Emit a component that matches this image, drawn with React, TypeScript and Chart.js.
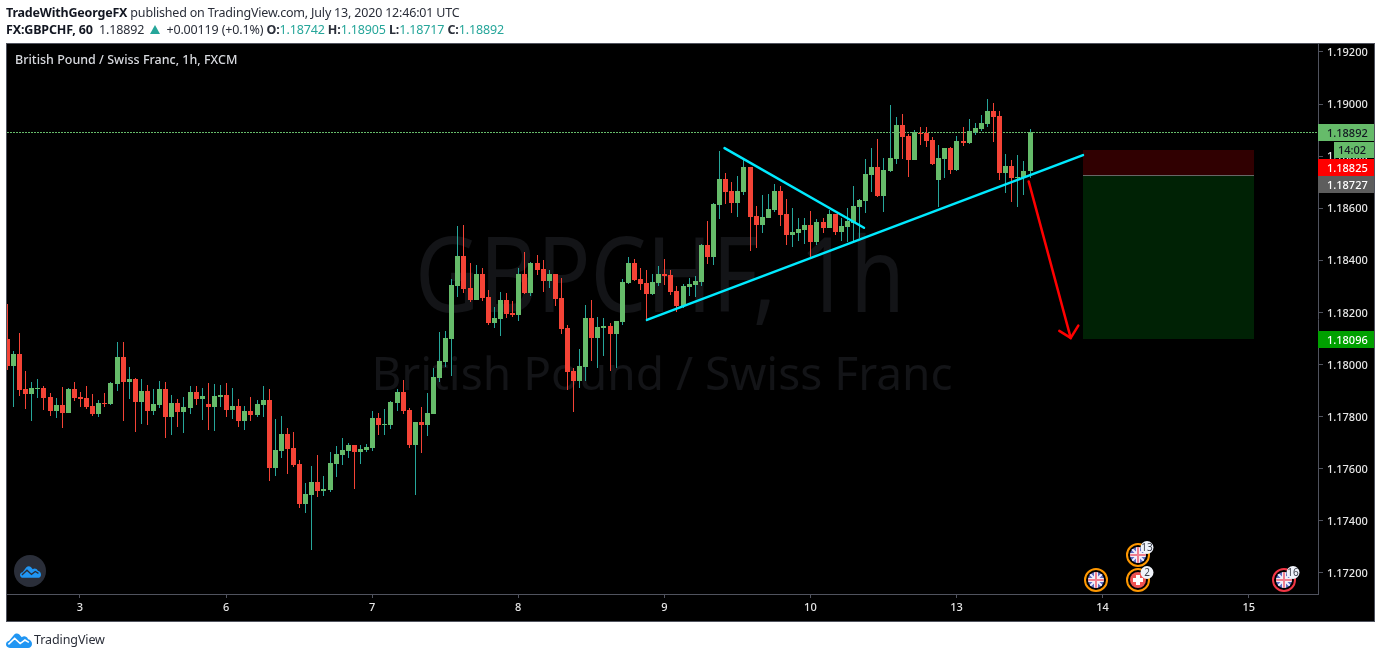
import React, { useEffect, useRef } from "react";
import { Chart, registerables } from "chart.js";

Chart.register(...registerables);

const FIRST_BAR = -12;

const opens = [
  1.18098,1.17995,1.18041,1.17906,1.17887,1.17906,1.17910,1.17876,1.17822,1.17845,1.17814,1.17906,
  1.17876,1.17872,1.17841,1.17810,1.17853,1.17849,1.17926,1.18029,1.17933,1.17945,1.17857,1.17899,
  1.17822,1.17845,1.17906,1.17799,1.17853,1.17818,1.17833,1.17895,1.17868,1.17849,1.17837,1.17876,
  1.17883,1.17826,1.17841,1.17784,1.17822,1.17807,1.17845,1.17864,1.17603,1.17668,1.17734,1.17680,
  1.17618,1.17465,1.17499,1.17549,1.17515,1.17519,1.17619,1.17653,1.17669,1.17692,1.17665,1.17672,
  1.17680,1.17795,1.17768,1.17768,1.17853,1.17895,1.17826,1.17692,1.17780,1.17768,1.17811,1.17949,
  1.18010,1.18099,1.18302,1.18417,1.18294,1.18248,1.18348,1.18260,1.18160,1.18175,1.18248,1.18198,
  1.18191,1.18348,1.18275,1.18390,1.18367,1.18321,1.18348,1.18256,1.18141,1.17976,1.17937,1.17991,
  1.18179,1.18102,1.18141,1.18149,1.18118,1.18164,1.18314,1.18390,1.18329,1.18313,1.18271,1.18313,
  1.18348,1.18344,1.18283,1.18225,1.18298,1.18306,1.18317,1.18459,1.18413,1.18613,1.18713,1.18667,
  1.18621,1.18663,1.18759,1.18571,1.18536,1.18563,1.18594,1.18667,1.18578,1.18498,1.18505,1.18517,
  1.18536,1.18471,1.18548,1.18525,1.18578,1.18509,1.18529,1.18544,1.18605,1.18628,1.18728,1.18759,
  1.18648,1.18744,1.18790,1.18921,1.18878,1.18786,1.18890,1.18890,1.18863,1.18709,1.18790,1.18832,
  1.18748,1.18859,1.18851,1.18894,1.18905,1.18924,1.18974,1.18955,1.18736,1.18763,1.18717,1.18717,
  1.18742,
];

const highs = [
  1.18233,1.18052,1.18121,1.17976,1.17933,1.17945,1.17918,1.17891,1.17872,1.17914,1.17910,1.17933,
  1.17895,1.17918,1.17887,1.17864,1.17891,1.17933,1.18087,1.18087,1.17991,1.17949,1.17945,1.17922,
  1.17906,1.17937,1.17933,1.17883,1.17868,1.17876,1.17918,1.17918,1.17910,1.17929,1.17926,1.17922,
  1.17929,1.17910,1.17868,1.17841,1.17876,1.17864,1.17918,1.17906,1.17791,1.17803,1.17757,1.17741,
  1.17634,1.17545,1.17611,1.17653,1.17572,1.17665,1.17688,1.17718,1.17699,1.17692,1.17692,1.17695,
  1.17822,1.17814,1.17830,1.17861,1.17907,1.17941,1.17834,1.17780,1.17838,1.17891,1.17987,1.18126,
  1.18129,1.18329,1.18533,1.18536,1.18390,1.18383,1.18371,1.18287,1.18222,1.18279,1.18275,1.18245,
  1.18371,1.18433,1.18394,1.18421,1.18402,1.18364,1.18348,1.18333,1.18152,1.17987,1.18060,1.18229,
  1.18248,1.18183,1.18179,1.18160,1.18168,1.18329,1.18414,1.18406,1.18371,1.18363,1.18348,1.18379,
  1.18406,1.18363,1.18302,1.18310,1.18333,1.18340,1.18463,1.18552,1.18621,1.18820,1.18736,1.18701,
  1.18724,1.18790,1.18759,1.18609,1.18651,1.18655,1.18694,1.18686,1.18636,1.18601,1.18563,1.18563,
  1.18590,1.18559,1.18563,1.18594,1.18578,1.18563,1.18601,1.18686,1.18636,1.18790,1.18832,1.18867,
  1.18794,1.18997,1.18951,1.18963,1.18886,1.18901,1.18913,1.18913,1.18875,1.18844,1.18832,1.18836,
  1.18878,1.18913,1.18944,1.18928,1.18959,1.19020,1.19005,1.18974,1.18809,1.18786,1.18805,1.18782,
  1.18905,
];

const lows = [
  1.17979,1.17837,1.17880,1.17830,1.17784,1.17872,1.17826,1.17803,1.17795,1.17757,1.17814,1.17860,
  1.17837,1.17830,1.17803,1.17799,1.17837,1.17845,1.17899,1.17784,1.17868,1.17741,1.17772,1.17768,
  1.17807,1.17833,1.17718,1.17730,1.17761,1.17737,1.17810,1.17845,1.17787,1.17749,1.17745,1.17837,
  1.17799,1.17791,1.17761,1.17749,1.17784,1.17799,1.17799,1.17553,1.17572,1.17641,1.17580,1.17607,
  1.17449,1.17430,1.17288,1.17492,1.17496,1.17511,1.17569,1.17615,1.17642,1.17523,1.17619,1.17665,
  1.17669,1.17730,1.17730,1.17753,1.17822,1.17811,1.17680,1.17500,1.17661,1.17726,1.17811,1.17934,
  1.17991,1.17957,1.18260,1.18275,1.18241,1.18248,1.18245,1.18152,1.18141,1.18110,1.18179,1.18183,
  1.18168,1.18271,1.18264,1.18344,1.18279,1.18294,1.18225,1.18118,1.17903,1.17818,1.17910,1.17937,
  1.18014,1.17987,1.18033,1.17976,1.17987,1.18152,1.18310,1.18321,1.18287,1.18168,1.18267,1.18302,
  1.18306,1.18267,1.18202,1.18217,1.18264,1.18260,1.18302,1.18386,1.18383,1.18559,1.18617,1.18582,
  1.18567,1.18651,1.18436,1.18448,1.18505,1.18563,1.18586,1.18532,1.18459,1.18452,1.18475,1.18463,
  1.18409,1.18459,1.18505,1.18525,1.18498,1.18475,1.18471,1.18471,1.18486,1.18582,1.18663,1.18644,
  1.18587,1.18740,1.18771,1.18790,1.18721,1.18786,1.18844,1.18836,1.18767,1.18606,1.18717,1.18732,
  1.18744,1.18840,1.18848,1.18882,1.18898,1.18913,1.18855,1.18709,1.18659,1.18625,1.18606,1.18652,
  1.18717,
];

const closes = [
  1.17995,1.18041,1.17903,1.17887,1.17910,1.17910,1.17872,1.17822,1.17845,1.17814,1.17906,1.17872,
  1.17868,1.17837,1.17810,1.17853,1.17849,1.17929,1.18029,1.17933,1.17945,1.17857,1.17899,1.17822,
  1.17849,1.17906,1.17799,1.17853,1.17818,1.17837,1.17895,1.17868,1.17880,1.17837,1.17880,1.17883,
  1.17826,1.17841,1.17784,1.17822,1.17807,1.17849,1.17864,1.17603,1.17672,1.17734,1.17676,1.17615,
  1.17465,1.17503,1.17549,1.17515,1.17522,1.17622,1.17657,1.17672,1.17692,1.17665,1.17676,1.17684,
  1.17795,1.17768,1.17772,1.17857,1.17895,1.17822,1.17692,1.17780,1.17768,1.17814,1.17953,1.18014,
  1.18102,1.18306,1.18417,1.18291,1.18248,1.18348,1.18256,1.18160,1.18179,1.18248,1.18195,1.18191,
  1.18348,1.18275,1.18390,1.18364,1.18321,1.18348,1.18252,1.18137,1.17972,1.17937,1.17995,1.18179,
  1.18102,1.18145,1.18149,1.18118,1.18168,1.18318,1.18390,1.18325,1.18310,1.18271,1.18317,1.18348,
  1.18340,1.18279,1.18225,1.18302,1.18310,1.18321,1.18459,1.18413,1.18617,1.18713,1.18663,1.18621,
  1.18667,1.18759,1.18567,1.18536,1.18567,1.18598,1.18667,1.18575,1.18498,1.18509,1.18521,1.18536,
  1.18471,1.18548,1.18525,1.18578,1.18509,1.18532,1.18552,1.18609,1.18632,1.18732,1.18759,1.18648,
  1.18748,1.18794,1.18921,1.18875,1.18786,1.18894,1.18886,1.18859,1.18771,1.18794,1.18832,1.18748,
  1.18859,1.18851,1.18898,1.18909,1.18928,1.18974,1.18951,1.18736,1.18763,1.18717,1.18721,1.18744,
  1.18892,
];

const dayTickBars = [0, 24, 48, 72, 96, 120, 144, 168, 192];
const dayTickLabels = ["3", "6", "7", "8", "9", "10", "13", "14", "15"];
const priceTicks = [1.172, 1.174, 1.176, 1.178, 1.18, 1.182, 1.184, 1.186, 1.188, 1.19, 1.192];

const lastPrice = 1.18892;
const stopPrice = 1.18825;
const entryPrice = 1.18727;
const targetPrice = 1.18096;
const positionBars = [164.78, 192.87];

const supportLine = [{ x: 93.15, y: 1.18171 }, { x: 164.78, y: 1.18804 }];
const resistanceLine = [{ x: 105.89, y: 1.18831 }, { x: 128.8, y: 1.18525 }];
const arrowShaft = [{ x: 155.86, y: 1.18703 }, { x: 162.76, y: 1.18102 }];
const arrowHead = [{ x: 160.89, y: 1.18129 }, { x: 162.76, y: 1.18102 }, { x: 164.01, y: 1.18149 }];

const eventMarks = [
  { bar: 166.9, price: 1.171724, flag: "uk", ring: "#ff9800", badge: "" },
  { bar: 173.8, price: 1.172665, flag: "uk", ring: "#ff9800", badge: "13" },
  { bar: 173.8, price: 1.171724, flag: "ch", ring: "#ff9800", badge: "2" },
  { bar: 197.8, price: 1.171724, flag: "uk", ring: "#f23645", badge: "16" },
];

const X_MIN = -11.99;
const X_MAX = 203.39;
const Y_MIN = 1.171186;
const Y_MAX = 1.192307;

const GREEN_BODY = "#66bb6a";
const GREEN_WICK = "#26a69a";
const RED = "#f44336";
const CYAN = "#00eaff";
const UI_FONT = '"Noto Sans", sans-serif';

const bars = opens.map((o, i) => ({
  x: i + FIRST_BAR,
  o,
  h: highs[i],
  l: lows[i],
  c: closes[i],
  up: closes[i] >= o,
}));

const snapPlugin = {
  id: "snap",
  afterDatasetsUpdate(chart: any) {
    chart.getSortedVisibleDatasetMetas().forEach((meta: any) => {
      if (meta.type === "bar") {
        meta.data.forEach((el: any) => {
          el.x = Math.round(el.x) + 0.5;
          el.y = Math.round(el.y);
          el.base = Math.round(el.base);
          if (el.y === el.base) el.base = el.y + 1;
        });
      } else if (chart.data.datasets[meta.index].snapY) {
        meta.data.forEach((el: any) => {
          el.y = Math.floor(el.y) + 0.5;
        });
      }
    });
  },
};

const panePlugin = {
  id: "pane",
  beforeDraw(chart: any) {
    const { ctx } = chart;
    ctx.save();
    ctx.fillStyle = "#000";
    ctx.fillRect(6, 43, 1369, 579);
    ctx.restore();
  },
  beforeDatasetsDraw(chart: any) {
    const { ctx, scales } = chart;
    const { x, y } = scales;
    ctx.save();
    ctx.textAlign = "center";
    ctx.textBaseline = "alphabetic";
    ctx.fillStyle = "#131417";
    ctx.font = `104px ${UI_FONT}`;
    ctx.fillText("GBPCHF, 1h", 660, 312, 490);
    ctx.font = `46px ${UI_FONT}`;
    ctx.fillText("British Pound / Swiss Franc", 662, 390);

    const left = Math.round(x.getPixelForValue(positionBars[0]));
    const right = Math.round(x.getPixelForValue(positionBars[1]));
    const stop = Math.round(y.getPixelForValue(stopPrice));
    const entry = Math.round(y.getPixelForValue(entryPrice));
    const target = Math.round(y.getPixelForValue(targetPrice));
    ctx.fillStyle = "#300001";
    ctx.fillRect(left, stop, right - left, entry - stop);
    ctx.fillStyle = "#002205";
    ctx.fillRect(left, entry, right - left, target - entry);
    ctx.fillStyle = "#666";
    ctx.fillRect(left, entry, right - left, 1);
    ctx.restore();
  },
};

function drawFlag(ctx: any, cx: number, cy: number, r: number, flag: string) {
  ctx.save();
  ctx.beginPath();
  ctx.arc(cx, cy, r, 0, Math.PI * 2);
  ctx.clip();
  if (flag === "uk") {
    ctx.fillStyle = "#5c6bc0";
    ctx.fillRect(cx - r, cy - r, 2 * r, 2 * r);
    ctx.strokeStyle = "#eef";
    ctx.lineWidth = 2;
    ctx.beginPath();
    ctx.moveTo(cx - r, cy - r);
    ctx.lineTo(cx + r, cy + r);
    ctx.moveTo(cx + r, cy - r);
    ctx.lineTo(cx - r, cy + r);
    ctx.stroke();
    ctx.lineWidth = 4;
    ctx.strokeStyle = "#f4f0f4";
    ctx.beginPath();
    ctx.moveTo(cx - r, cy);
    ctx.lineTo(cx + r, cy);
    ctx.moveTo(cx, cy - r);
    ctx.lineTo(cx, cy + r);
    ctx.stroke();
    ctx.lineWidth = 2;
    ctx.strokeStyle = "#ef7f8f";
    ctx.beginPath();
    ctx.moveTo(cx - r, cy);
    ctx.lineTo(cx + r, cy);
    ctx.moveTo(cx, cy - r);
    ctx.lineTo(cx, cy + r);
    ctx.stroke();
  } else {
    ctx.fillStyle = "#ef5350";
    ctx.fillRect(cx - r, cy - r, 2 * r, 2 * r);
    ctx.fillStyle = "#fff";
    ctx.fillRect(cx - 5, cy - 2, 10, 4);
    ctx.fillRect(cx - 2, cy - 5, 4, 10);
  }
  ctx.restore();
}

const overlayPlugin = {
  id: "overlay",
  afterDraw(chart: any) {
    const { ctx, scales } = chart;
    const { x, y } = scales;
    ctx.save();

    // Outer frame
    ctx.strokeStyle = "#50535e";
    ctx.lineWidth = 1;
    ctx.strokeRect(6.5, 43.5, 1368, 578);

    // Event markers
    eventMarks.forEach((m) => {
      const cx = Math.round(x.getPixelForValue(m.bar));
      const cy = Math.round(y.getPixelForValue(m.price));
      ctx.beginPath();
      ctx.arc(cx, cy, 11, 0, Math.PI * 2);
      ctx.strokeStyle = m.ring;
      ctx.lineWidth = 2;
      ctx.stroke();
      drawFlag(ctx, cx, cy, 8, m.flag);
      if (m.badge) {
        ctx.beginPath();
        ctx.arc(cx + 9, cy - 7.5, 6.5, 0, Math.PI * 2);
        ctx.fillStyle = "#f0f3fa";
        ctx.fill();
        ctx.fillStyle = "#3a3e49";
        ctx.font = `10px ${UI_FONT}`;
        ctx.textAlign = "center";
        ctx.textBaseline = "middle";
        ctx.fillText(m.badge, cx + 9, cy - 7);
      }
    });

    // Price labels on the axis
    const tag = (lx: number, top: number, h: number, bg: string, fg: string, text: string, tx: number) => {
      ctx.fillStyle = bg;
      ctx.fillRect(lx, top, 1374 - lx, h);
      ctx.fillStyle = fg;
      ctx.font = `500 11px ${UI_FONT}`;
      ctx.textAlign = "left";
      ctx.textBaseline = "middle";
      ctx.fillText(text, tx, top + h / 2 + 1);
    };
    tag(1318, 124, 17, GREEN_BODY, "#131722", lastPrice.toFixed(5), 1327);
    tag(1334, 142, 16, GREEN_BODY, "#131722", "14:02", 1338);
    tag(1318, 159, 17, "#ff0000", "#fff", stopPrice.toFixed(5), 1327);
    tag(1318, 176, 17, "#5d5d5d", "#fff", entryPrice.toFixed(5), 1327);
    tag(1318, 331, 17, "#00a000", "#fff", targetPrice.toFixed(5), 1327);
    ctx.restore();
  },
};

const Logo = ({ w, h, line }: { w: number; h: number; line: string }) => (
  <svg width={w} height={h} viewBox="0 0 33 20" style={{ display: "block" }}>
    <path
      d="M5 20C2 20 0 18 0 15.500C0 13 1.500 11.500 4 11L10 3.500C12 1.200 15 1 17 3L20 6.500C22.500 4.500 26.500 5 28 9C31 9.500 33 12 33 15C33 18 31 20 28 20Z"
      fill="#2196f3"
    />
    <path d="M3 15.500L11 8L18 14.500L24 10L29 13" fill="none" stroke={line} strokeWidth="2" />
  </svg>
);

export default function App() {
  const canvasRef = useRef<HTMLCanvasElement | null>(null);

  useEffect(() => {
    if (!canvasRef.current) return;
    document.body.style.margin = "0";
    const up = bars.filter((b) => b.up);
    const down = bars.filter((b) => !b.up);
    const barDefaults = { type: "bar", grouped: false, inflateAmount: 0, borderWidth: 0 };
    const lineDefaults = { type: "line", pointRadius: 0, tension: 0, fill: false, borderCapStyle: "round" };

    const chart = new Chart(canvasRef.current, {
      type: "bar",
      data: {
        datasets: [
          { ...lineDefaults, label: "Last", data: [{ x: X_MIN, y: lastPrice }, { x: X_MAX, y: lastPrice }], borderColor: GREEN_BODY, borderWidth: 1, borderDash: [2, 1], order: 6, snapY: true, borderCapStyle: "butt" },
          { ...barDefaults, label: "Up wick", data: up.map((b) => ({ x: b.x, y: [b.l, b.h] })), backgroundColor: GREEN_WICK, barThickness: 1, order: 5 },
          { ...barDefaults, label: "Down wick", data: down.map((b) => ({ x: b.x, y: [b.l, b.h] })), backgroundColor: RED, barThickness: 1, order: 5 },
          { ...barDefaults, label: "Up body", data: up.map((b) => ({ x: b.x, y: [b.o, b.c] })), backgroundColor: GREEN_BODY, barThickness: 5, order: 4 },
          { ...barDefaults, label: "Down body", data: down.map((b) => ({ x: b.x, y: [b.c, b.o] })), backgroundColor: RED, barThickness: 5, order: 4 },
          { ...lineDefaults, label: "Support", data: supportLine, borderColor: CYAN, borderWidth: 2.5, order: 1 },
          { ...lineDefaults, label: "Resistance", data: resistanceLine, borderColor: CYAN, borderWidth: 2.5, order: 1 },
          { ...lineDefaults, label: "Arrow", data: arrowShaft, borderColor: "#ff0000", borderWidth: 2.5, order: 1 },
          { ...lineDefaults, label: "Arrow head", data: arrowHead, borderColor: "#ff0000", borderWidth: 2.5, order: 1 },
        ] as any,
      },
      options: {
        responsive: false,
        animation: false,
        events: [],
        layout: { padding: { left: 7, top: 44, right: 7, bottom: 37 } },
        plugins: { legend: { display: false }, tooltip: { enabled: false }, title: { display: false } },
        scales: {
          x: {
            type: "linear",
            offset: false,
            min: X_MIN,
            max: X_MAX,
            bounds: "data",
            grid: { offset: false, drawOnChartArea: false, color: "#50535e", tickColor: "#50535e", tickLength: 4 },
            border: { color: "#50535e" },
            ticks: {
              autoSkip: false,
              maxRotation: 0,
              includeBounds: false,
              color: "#e6e6e6",
              font: { family: UI_FONT, size: 11, weight: 500 },
              padding: 3,
              callback: (v: any) => dayTickLabels[dayTickBars.indexOf(v)] ?? "",
            },
            afterBuildTicks: (s: any) => {
              s.ticks = dayTickBars.map((value) => ({ value }));
            },
            afterFit: (s: any) => {
              s.height = 27;
            },
          },
          y: {
            type: "linear",
            position: "right",
            beginAtZero: false,
            min: Y_MIN,
            max: Y_MAX,
            bounds: "data",
            grid: { drawOnChartArea: false, color: "#50535e", tickColor: "#50535e", tickLength: 5 },
            border: { color: "#50535e" },
            ticks: {
              autoSkip: false,
              includeBounds: false,
              color: "#e6e6e6",
              font: { family: UI_FONT, size: 11, weight: 500 },
              padding: 4,
              callback: (v: any) => Number(v).toFixed(5),
            },
            afterBuildTicks: (s: any) => {
              s.ticks = priceTicks.map((value) => ({ value }));
            },
            afterFit: (s: any) => {
              s.width = 56;
              if (!s._labelShifted) {
                s._labelShifted = true;
                const compute = s._computeLabelItems;
                s._computeLabelItems = function (area: any) {
                  const items = compute.call(this, area);
                  items.forEach((item: any) => {
                    item.textOffset += 1;
                  });
                  return items;
                };
              }
            },
          },
        },
      } as any,
      plugins: [snapPlugin, panePlugin, overlayPlugin] as any,
    });
    return () => chart.destroy();
  }, []);

  const text: React.CSSProperties = { position: "absolute", whiteSpace: "nowrap", fontFamily: UI_FONT, lineHeight: "16px" };
  const teal = { color: "#26a69a" };

  return (
    <div style={{ position: "fixed", left: 0, top: 0, width: 1381, height: 658, background: "#fff", overflow: "hidden" }}>
      <canvas ref={canvasRef} width={1381} height={658} style={{ position: "absolute", left: 0, top: 0, display: "block" }} />
      <div style={{ ...text, left: 6, top: 5, fontSize: 12.5, letterSpacing: -0.19, color: "#2a2e39" }}>
        <b style={{ color: "#131722" }}>TradeWithGeorgeFX</b> published on TradingView.com, July 13, 2020 12:46:01 UTC
      </div>
      <div style={{ ...text, left: 6, top: 22, fontSize: 12.5, letterSpacing: -0.15, color: "#2a2e39" }}>
        <b style={{ color: "#131722" }}>FX:GBPCHF, 60</b>&nbsp; 1.18892{" "}
        <span style={{ display: "inline-block", width: 0, height: 0, margin: "0 3px", borderLeft: "5px solid transparent", borderRight: "5px solid transparent", borderBottom: "9px solid #26a69a" }} />{" "}
        +0.00119 (+0.1%) <b>O:</b><span style={teal}>1.18742</span> <b>H:</b><span style={teal}>1.18905</span> <b>L:</b><span style={teal}>1.18717</span> <b>C:</b><span style={teal}>1.18892</span>
      </div>
      <div style={{ ...text, left: 15, top: 52, fontSize: 12.5, fontWeight: 500, color: "#d8dadf" }}>British Pound / Swiss Franc, 1h, FXCM</div>
      <div style={{ position: "absolute", left: 14, top: 555, width: 32, height: 32, borderRadius: 16, background: "#2a2e39", display: "flex", alignItems: "center", justifyContent: "center" }}>
        <Logo w={21} h={13} line="#2a2e39" />
      </div>
      <div style={{ position: "absolute", left: 6, top: 632 }}>
        <Logo w={26} h={16} line="#fff" />
      </div>
      <div style={{ ...text, left: 34, top: 632, fontSize: 12.5, letterSpacing: -0.1, color: "#2a2e39" }}>TradingView</div>
    </div>
  );
}
